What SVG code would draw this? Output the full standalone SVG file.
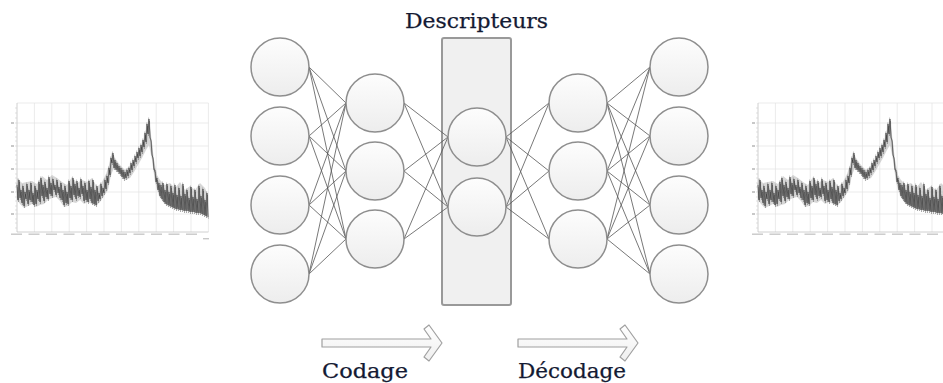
<svg xmlns="http://www.w3.org/2000/svg" xmlns:xlink="http://www.w3.org/1999/xlink" width="943" height="383" viewBox="0 0 943 383">
<defs>
<linearGradient id="cg" x1="0" y1="0" x2="0" y2="1"><stop offset="0" stop-color="#fdfdfd"/><stop offset="1" stop-color="#ededed"/></linearGradient>
<linearGradient id="ag" x1="0" y1="0" x2="0" y2="1"><stop offset="0" stop-color="#ffffff"/><stop offset="1" stop-color="#efefef"/></linearGradient>
<polyline id="sig" fill="none" points="17,185 18,200 19,180 20,198 21,190 22,203 23,186 24,206 25,192 26,199 27,184 28,204 29,190 30,200 31,183 32,202 33,193 34,205 35,186 36,204 37,190 38,199 39,182 40,202 41,178 42,196 43,185 44,201 45,182 46,197 47,188 48,199 49,177 50,194 51,183 52,196 53,179 54,190 55,185 56,195 57,180 58,193 59,187 60,198 61,183 62,200 63,190 64,205 65,186 66,203 67,192 68,204 69,181 70,198 71,186 72,200 73,178 74,195 75,184 76,199 77,181 78,196 79,188 80,197 81,179 82,194 83,186 84,201 85,183 86,200 87,190 88,202 89,181 90,199 91,187 92,203 93,180 94,204 95,190 96,205 97,186 98,201 99,193 100,199 101,184 102,196 103,188 104,193 105,180 106,189 107,176 108,183 109,168 110,175 111,158 112,163 113,153 114,168 115,160 116,170 117,163 118,172 119,166 120,174 121,168 122,177 123,170 124,179 125,172 126,178 127,170 128,176 129,168 130,173 131,163 132,170 133,160 134,166 135,156 136,162 137,152 138,158 139,148 140,156 141,145 142,152 143,140 144,147 145,133 146,142 147,124 148,134 149,119 150,138 151,140 152,155 153,158 154,170 155,170 156,182 157,178 158,190 159,183 160,196 161,185 162,199 163,183 164,202 165,190 166,204 167,184 168,205 169,192 170,206 171,186 172,207 173,193 174,208 175,185 176,209 177,195 178,209 179,188 180,210 181,196 182,210 183,184 184,211 185,194 186,211 187,190 188,211 189,198 190,212 191,187 192,212 193,197 194,212 195,190 196,213 197,199 198,213 199,186 200,213 201,196 202,214 203,189 204,215 205,200 206,216 207,193 208,217"/>
<g id="chart">
<g stroke="#e2e2e2" stroke-width="0.7" fill="none">
<path d="M34.4 103V232M51.8 103V232M69.2 103V232M86.6 103V232M104 103V232M121.4 103V232M138.8 103V232M156.2 103V232M173.6 103V232M191 103V232M208.4 103V232"/>
<path d="M17 103H208.4M17 123H208.4M17 146H208.4M17 169H208.4M17 192H208.4M17 214H208.4"/>
</g>
<path d="M17 103V232H208.4" stroke="#c4c4c4" stroke-width="0.8" fill="none"/>
<path d="M15 108H17M15 113H17M15 118H17M15 123H17M15 128H17M15 132H17M15 137H17M15 141H17M15 146H17M15 151H17M15 155H17M15 160H17M15 164H17M15 169H17M15 174H17M15 178H17M15 183H17M15 187H17M15 192H17M15 197H17M15 201H17M15 206H17M15 210H17M15 214H17M15 219H17M15 223H17M15 228H17" stroke="#cfcfcf" stroke-width="0.6"/>
<g fill="#c8c8c8">
<rect x="11" y="122" width="3" height="2"/><rect x="11" y="145" width="3" height="2"/><rect x="11" y="168" width="3" height="2"/><rect x="11" y="191" width="3" height="2"/><rect x="11" y="213" width="3" height="2"/>
<rect x="11" y="233.5" width="11" height="1.4"/><rect x="28.5" y="233.5" width="11" height="1.4"/><rect x="46" y="233.5" width="11" height="1.4"/><rect x="63.5" y="233.5" width="11" height="1.4"/><rect x="81" y="233.5" width="11" height="1.4"/><rect x="98.5" y="233.5" width="11" height="1.4"/><rect x="116" y="233.5" width="11" height="1.4"/><rect x="133.5" y="233.5" width="11" height="1.4"/><rect x="151" y="233.5" width="11" height="1.4"/><rect x="168.5" y="233.5" width="11" height="1.4"/><rect x="186" y="233.5" width="11" height="1.4"/><rect x="203" y="238" width="6" height="1.4"/>
</g>
<polygon fill="#9a9a9a" fill-opacity="0.4" points="17,178 22,183 27,182 32,181 37,184 42,176 47,180 52,175 57,178 62,182 67,185 72,177 77,183 82,180 87,182 92,178 97,187 102,182 106,174 109,165 112,152 115,158 120,165 125,170 130,166 135,158 140,148 144,138 147,125 149,118 151,135 154,160 157,175 160,180 165,185 170,183 175,188 180,182 185,190 190,186 195,190 200,183 205,188 208,195 208,218 203,214 198,213 193,212 188,211 183,210 178,210 173,208 168,206 163,202 159,196 155,182 152,160 149,145 146,150 142,158 138,165 134,172 130,178 126,180 122,176 118,170 114,168 111,175 108,190 104,196 100,202 96,206 92,204 88,202 84,204 80,200 76,203 72,202 68,206 64,207 60,201 56,197 52,198 48,200 44,204 40,205 36,207 32,204 28,206 24,208 20,204 17,200"/>
<use xlink:href="#sig" transform="translate(0.5,2)" stroke="#555" stroke-width="0.5" stroke-opacity="0.6"/>
<use xlink:href="#sig" transform="translate(-0.4,-1.5)" stroke="#666" stroke-width="0.4" stroke-opacity="0.5"/>
<use xlink:href="#sig" stroke="#1a1a1a" stroke-width="0.6" stroke-opacity="0.85"/>
</g>
</defs>
<style>
.n{fill:url(#cg);stroke:#8e8e8e;stroke-width:1.5}
.lbl{font-family:"DejaVu Serif","Liberation Serif",serif;font-size:20px;fill:#141a33;stroke:#141a33;stroke-width:0.25}
.arr{fill:url(#ag);stroke:#a0a0a0;stroke-width:1.2;stroke-linejoin:round}
</style>
<rect width="943" height="383" fill="#ffffff"/>
<g id="signal-in"><use xlink:href="#chart"/></g>
<g id="signal-out"><use xlink:href="#chart" transform="translate(741,0)"/></g>
<g id="descripteurs-box"><rect x="442" y="38" width="69" height="267" rx="2" fill="#f0f0f0" stroke="#999" stroke-width="2"/></g>
<g id="connectors" stroke="#555" stroke-width="0.8" fill="none">
<path d="M309 67L346 103M309 67L346 171M309 67L346 239M309 136L346 103M309 136L346 171M309 136L346 239M309 205L346 103M309 205L346 171M309 205L346 239M309 274L346 103M309 274L346 171M309 274L346 239"/>
<path d="M404 103L448 137M404 103L448 207M404 171L448 137M404 171L448 207M404 239L448 137M404 239L448 207"/>
<path d="M506 137L549 103M506 137L549 171M506 137L549 239M506 207L549 103M506 207L549 171M506 207L549 239"/>
<path d="M607 103L650 67M607 103L650 136M607 103L650 205M607 103L650 274M607 171L650 67M607 171L650 136M607 171L650 205M607 171L650 274M607 239L650 67M607 239L650 136M607 239L650 205M607 239L650 274"/>
</g>
<g id="input-layer">
<circle class="n" cx="280" cy="67" r="29"/><circle class="n" cx="280" cy="136" r="29"/><circle class="n" cx="280" cy="205" r="29"/><circle class="n" cx="280" cy="274" r="29"/>
</g>
<g id="hidden-layer-1">
<circle class="n" cx="375" cy="103" r="29"/><circle class="n" cx="375" cy="171" r="29"/><circle class="n" cx="375" cy="239" r="29"/>
</g>
<g id="code-layer">
<circle class="n" cx="477" cy="137" r="29"/><circle class="n" cx="477" cy="207" r="29"/>
</g>
<g id="hidden-layer-2">
<circle class="n" cx="578" cy="103" r="29"/><circle class="n" cx="578" cy="171" r="29"/><circle class="n" cx="578" cy="239" r="29"/>
</g>
<g id="output-layer">
<circle class="n" cx="679" cy="67" r="29"/><circle class="n" cx="679" cy="136" r="29"/><circle class="n" cx="679" cy="205" r="29"/><circle class="n" cx="679" cy="274" r="29"/>
</g>
<g id="label-descripteurs"><text class="lbl" x="405" y="28" textLength="143" lengthAdjust="spacingAndGlyphs">Descripteurs</text></g>
<g id="arrow-codage">
<polygon class="arr" points="322,339 431,339 424,329 429,325 442,343 429,361 424,357 431,347 322,347"/>
<text class="lbl" x="322" y="378" textLength="86" lengthAdjust="spacingAndGlyphs">Codage</text>
</g>
<g id="arrow-decodage">
<polygon class="arr" points="518,339 627,339 620,329 625,325 638,343 625,361 620,357 627,347 518,347"/>
<text class="lbl" x="518" y="378" textLength="108" lengthAdjust="spacingAndGlyphs">Décodage</text>
</g>
</svg>
